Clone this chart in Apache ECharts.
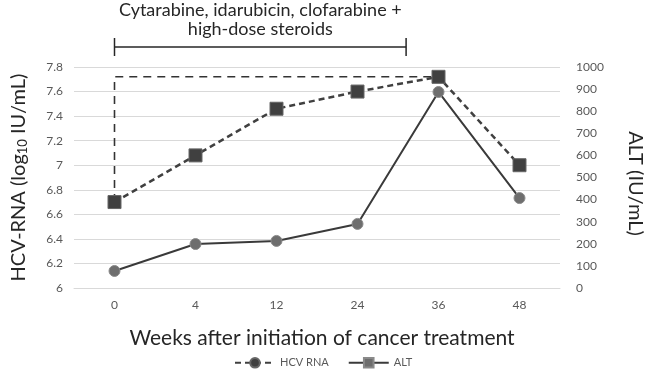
<!DOCTYPE html>
<html><head><meta charset="utf-8">
<script src="https://cdn.jsdelivr.net/npm/echarts@6/dist/echarts.min.js"></script>
<style>html,body{margin:0;padding:0;background:#fff}#c{width:653px;height:371px}</style>
</head><body><div id="c"></div>
<script>
// ---- data ----
const weeks = ['0', '4', '12', '24', '36', '48'];
const hcvRna = [6.70, 7.08, 7.46, 7.60, 7.72, 7.00];   // log10 IU/mL (left axis)
const alt = [77, 199, 213, 290, 887, 407];             // IU/mL (right axis)
const treatmentLabel = ['Cytarabine, idarubicin, clofarabine +', 'high-dose steroids'];
const treatmentSpan = [0, 3.6];                         // in category-index units
const leftAxisRange = [6, 7.8, 0.2];
const rightAxisRange = [0, 1000, 100];

const FONT = 'Lato';
const chart = echarts.init(document.getElementById('c'));
const option = {
  animation: false,
  grid: { left: 74, right: 81, top: 67, bottom: 83 },
  legend: {
    left: 229, top: 352,
    itemWidth: 40, itemHeight: 12, itemGap: 19,
    textStyle: { fontFamily: FONT, fontSize: 11, color: '#595959' },
    data: ['HCV RNA', 'ALT']
  },
  xAxis: {
    type: 'category', data: weeks, boundaryGap: true,
    axisTick: { show: false },
    axisLine: { lineStyle: { color: '#d9d9d9', width: 1 } },
    axisLabel: { fontFamily: FONT, fontSize: 12, color: '#595959', margin: 11 },
    name: 'Weeks after initiation of cancer treatment',
    nameLocation: 'middle', nameGap: 40,
    nameTextStyle: { fontFamily: FONT, fontSize: 21, color: '#262626', padding: [0, 0, 0, 10] }
  },
  yAxis: [{
    type: 'value', min: leftAxisRange[0], max: leftAxisRange[1], interval: leftAxisRange[2],
    axisLine: { show: false }, axisTick: { show: false },
    splitLine: { lineStyle: { color: '#d9d9d9', width: 1 } },
    axisLabel: { fontFamily: FONT, fontSize: 12, color: '#595959', margin: 11,
      formatter: v => String(+v.toFixed(1)) },
    name: 'HCV-RNA (log{sub|10} IU/mL)', nameLocation: 'middle', nameGap: 45,
    nameTextStyle: { fontFamily: FONT, fontSize: 20, color: '#262626',
      rich: { sub: { fontFamily: FONT, fontSize: 13, color: '#262626', padding: [8, 0, 0, 0] } } }
  }, {
    type: 'value', position: 'right', min: rightAxisRange[0], max: rightAxisRange[1], interval: rightAxisRange[2],
    axisLine: { show: false }, axisTick: { show: false }, splitLine: { show: false },
    axisLabel: { fontFamily: FONT, fontSize: 12, color: '#595959', margin: 16, formatter: v => String(v) },
    name: 'ALT (IU/mL)', nameLocation: 'middle', nameGap: 65, nameRotate: -90,
    nameTextStyle: { fontFamily: FONT, fontSize: 20, color: '#262626', padding: [0, 0, 0, 12] }
  }],
  series: [{
    name: 'connector', type: 'line', yAxisIndex: 0, z: 1, silent: true,
    symbol: 'none',
    lineStyle: { color: '#333', width: 1.6, type: [8, 6] },
    data: [[weeks[0], hcvRna[0]], [weeks[0], hcvRna[4]], [weeks[4], hcvRna[4]]]
  }, {
    name: 'ALT', type: 'line', yAxisIndex: 1, z: 2,
    symbol: 'rect', symbolSize: 11,
    itemStyle: { color: '#6e6e6e', borderColor: '#8a8a8a', borderWidth: 1 },
    lineStyle: { color: '#3a3a3a', width: 2 },
    data: alt.map(v => ({ value: v, symbol: 'circle' }))
  }, {
    name: 'HCV RNA', type: 'line', yAxisIndex: 0, z: 3,
    symbol: 'circle', symbolSize: 13,
    itemStyle: { color: '#404040', borderColor: '#666', borderWidth: 1 },
    lineStyle: { color: '#404040', width: 2.5, type: [6, 4] },
    data: hcvRna.map(v => ({ value: v, symbol: 'rect' }))
  }]
};
chart.setOption(option);

const x0 = chart.convertToPixel({ xAxisIndex: 0 }, weeks[0]);
const x1 = chart.convertToPixel({ xAxisIndex: 0 }, weeks[1]);
const step = x1 - x0;
const bx0 = x0 + treatmentSpan[0] * step, bx1 = x0 + treatmentSpan[1] * step;
const by = 47;
chart.setOption({
  graphic: [
    { type: 'line', shape: { x1: bx0, y1: by, x2: bx1, y2: by }, style: { stroke: '#262626', lineWidth: 1.5 } },
    { type: 'line', shape: { x1: bx0, y1: by - 9, x2: bx0, y2: by + 9 }, style: { stroke: '#262626', lineWidth: 1.5 } },
    { type: 'line', shape: { x1: bx1, y1: by - 9, x2: bx1, y2: by + 9 }, style: { stroke: '#262626', lineWidth: 1.5 } },
    { type: 'text', x: (bx0 + bx1) / 2, y: 1,
      style: { text: treatmentLabel.join('\n'), fontFamily: FONT, fontSize: 18, lineHeight: 19,
        fill: '#262626', align: 'center', verticalAlign: 'top' } }
  ]
});
</script>
</body></html>
